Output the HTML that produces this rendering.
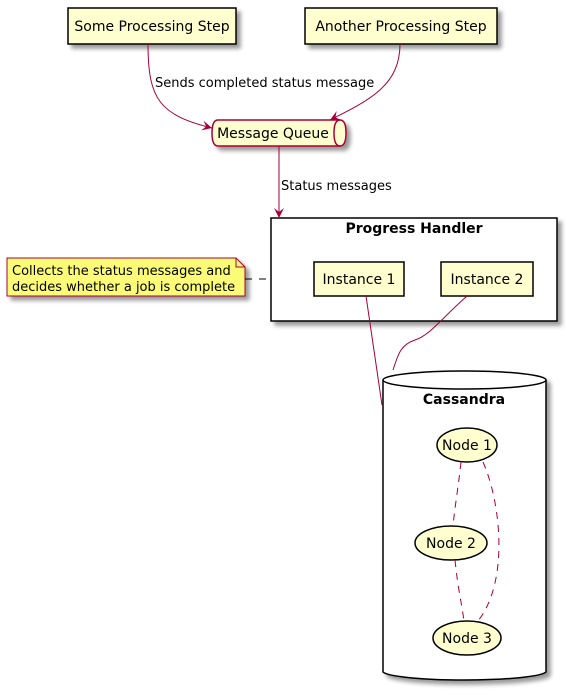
<!DOCTYPE html>
<html><head><meta charset="utf-8"><style>
html,body{margin:0;padding:0;background:#fff;width:567px;height:693px;overflow:hidden}
text{font-family:"DejaVu Sans","Liberation Sans",sans-serif}
</style></head><body>
<svg width="567" height="693" xmlns="http://www.w3.org/2000/svg">
<defs>
<filter id="sh" x="-20%" y="-20%" width="150%" height="150%"><feGaussianBlur in="SourceAlpha" stdDeviation="2"/><feOffset dx="4" dy="4"/><feComponentTransfer><feFuncA type="linear" slope="0.4"/></feComponentTransfer><feMerge><feMergeNode/><feMergeNode in="SourceGraphic"/></feMerge></filter>
<marker id="ar" markerWidth="12" markerHeight="10" refX="10" refY="5" orient="auto" markerUnits="userSpaceOnUse"><path d="M0,0 L10,5 L0,10 L4,5 Z" fill="#A80036"/></marker>
</defs>
<g fill="#FEFECE" stroke="#000" stroke-width="1.5" filter="url(#sh)">
<rect x="68" y="8" width="168" height="36"/>
<rect x="305" y="8" width="192" height="36"/>
<rect x="271" y="218" width="286" height="103" fill="#fff"/>
<rect x="314" y="262" width="90" height="34"/>
<rect x="441" y="262" width="92" height="34"/>
<path d="M383,380 L383,672 A82,9 0 0 0 546,672 L546,380" fill="#fff"/>
<ellipse cx="464.5" cy="380" rx="81.5" ry="9" fill="#fff"/>
<ellipse cx="467" cy="445" rx="30" ry="17"/>
<ellipse cx="451" cy="543" rx="36" ry="17"/>
<ellipse cx="467" cy="638" rx="34" ry="17"/>
<path d="M7,258 L236,258 L245,267 L245,296 L7,296 Z" fill="#FBFB77" stroke="#A80036" stroke-width="1"/>
<path d="M218,120 L340,120 Q346,120 346,133 Q346,146 340,146 L218,146 Q212,146 212,133 Q212,120 218,120 Z" stroke="#A80036"/>
</g>
<path d="M340,120 Q334,120 334,133 Q334,146 340,146" fill="none" stroke="#A80036" stroke-width="1.5"/>
<path d="M236,258 L236,267 L245,267" fill="none" stroke="#A80036" stroke-width="1"/>
<g fill="none" stroke="#A80036" stroke-width="1">
<path d="M148,44 C148,100 160,115 212,128" marker-end="url(#ar)"/>
<path d="M400,44 C400,85 370,100 330,120" marker-end="url(#ar)"/>
<path d="M279,146 L279,218" marker-end="url(#ar)"/>
<path d="M366,296 L382,405"/>
<path d="M467,296 C440,320 430,335 415,340 C400,345 398,355 393,370"/>
<path d="M461,462 C458,490 455,505 453,526" stroke-dasharray="7,6"/>
<path d="M483,462 C500,500 510,580 478,621" stroke-dasharray="7,6"/>
<path d="M455,560 C458,590 462,605 464,621" stroke-dasharray="7,6"/>
</g>
<line x1="245" y1="279" x2="271" y2="279" stroke="#000" stroke-width="1" stroke-dasharray="7,7"/>
<g font-size="14" fill="#000">
<text x="152" y="31" text-anchor="middle">Some Processing Step</text>
<text x="401" y="31" text-anchor="middle">Another Processing Step</text>
<text x="273" y="138" text-anchor="middle">Message Queue</text>
<text x="359" y="284" text-anchor="middle">Instance 1</text>
<text x="487" y="284" text-anchor="middle">Instance 2</text>
<text x="467" y="450" text-anchor="middle">Node 1</text>
<text x="451" y="548" text-anchor="middle">Node 2</text>
<text x="467" y="643" text-anchor="middle">Node 3</text>
</g>
<g font-size="13">
<text x="155" y="87">Sends completed status message</text>
<text x="281" y="190">Status messages</text>
<text x="12" y="275">Collects the status messages and</text>
<text x="12" y="291">decides whether a job is complete</text>
</g>
<text x="414" y="233" text-anchor="middle" font-size="14" font-weight="bold">Progress Handler</text>
<text x="464" y="404" text-anchor="middle" font-size="14" font-weight="bold">Cassandra</text>
</svg>
</body></html>
